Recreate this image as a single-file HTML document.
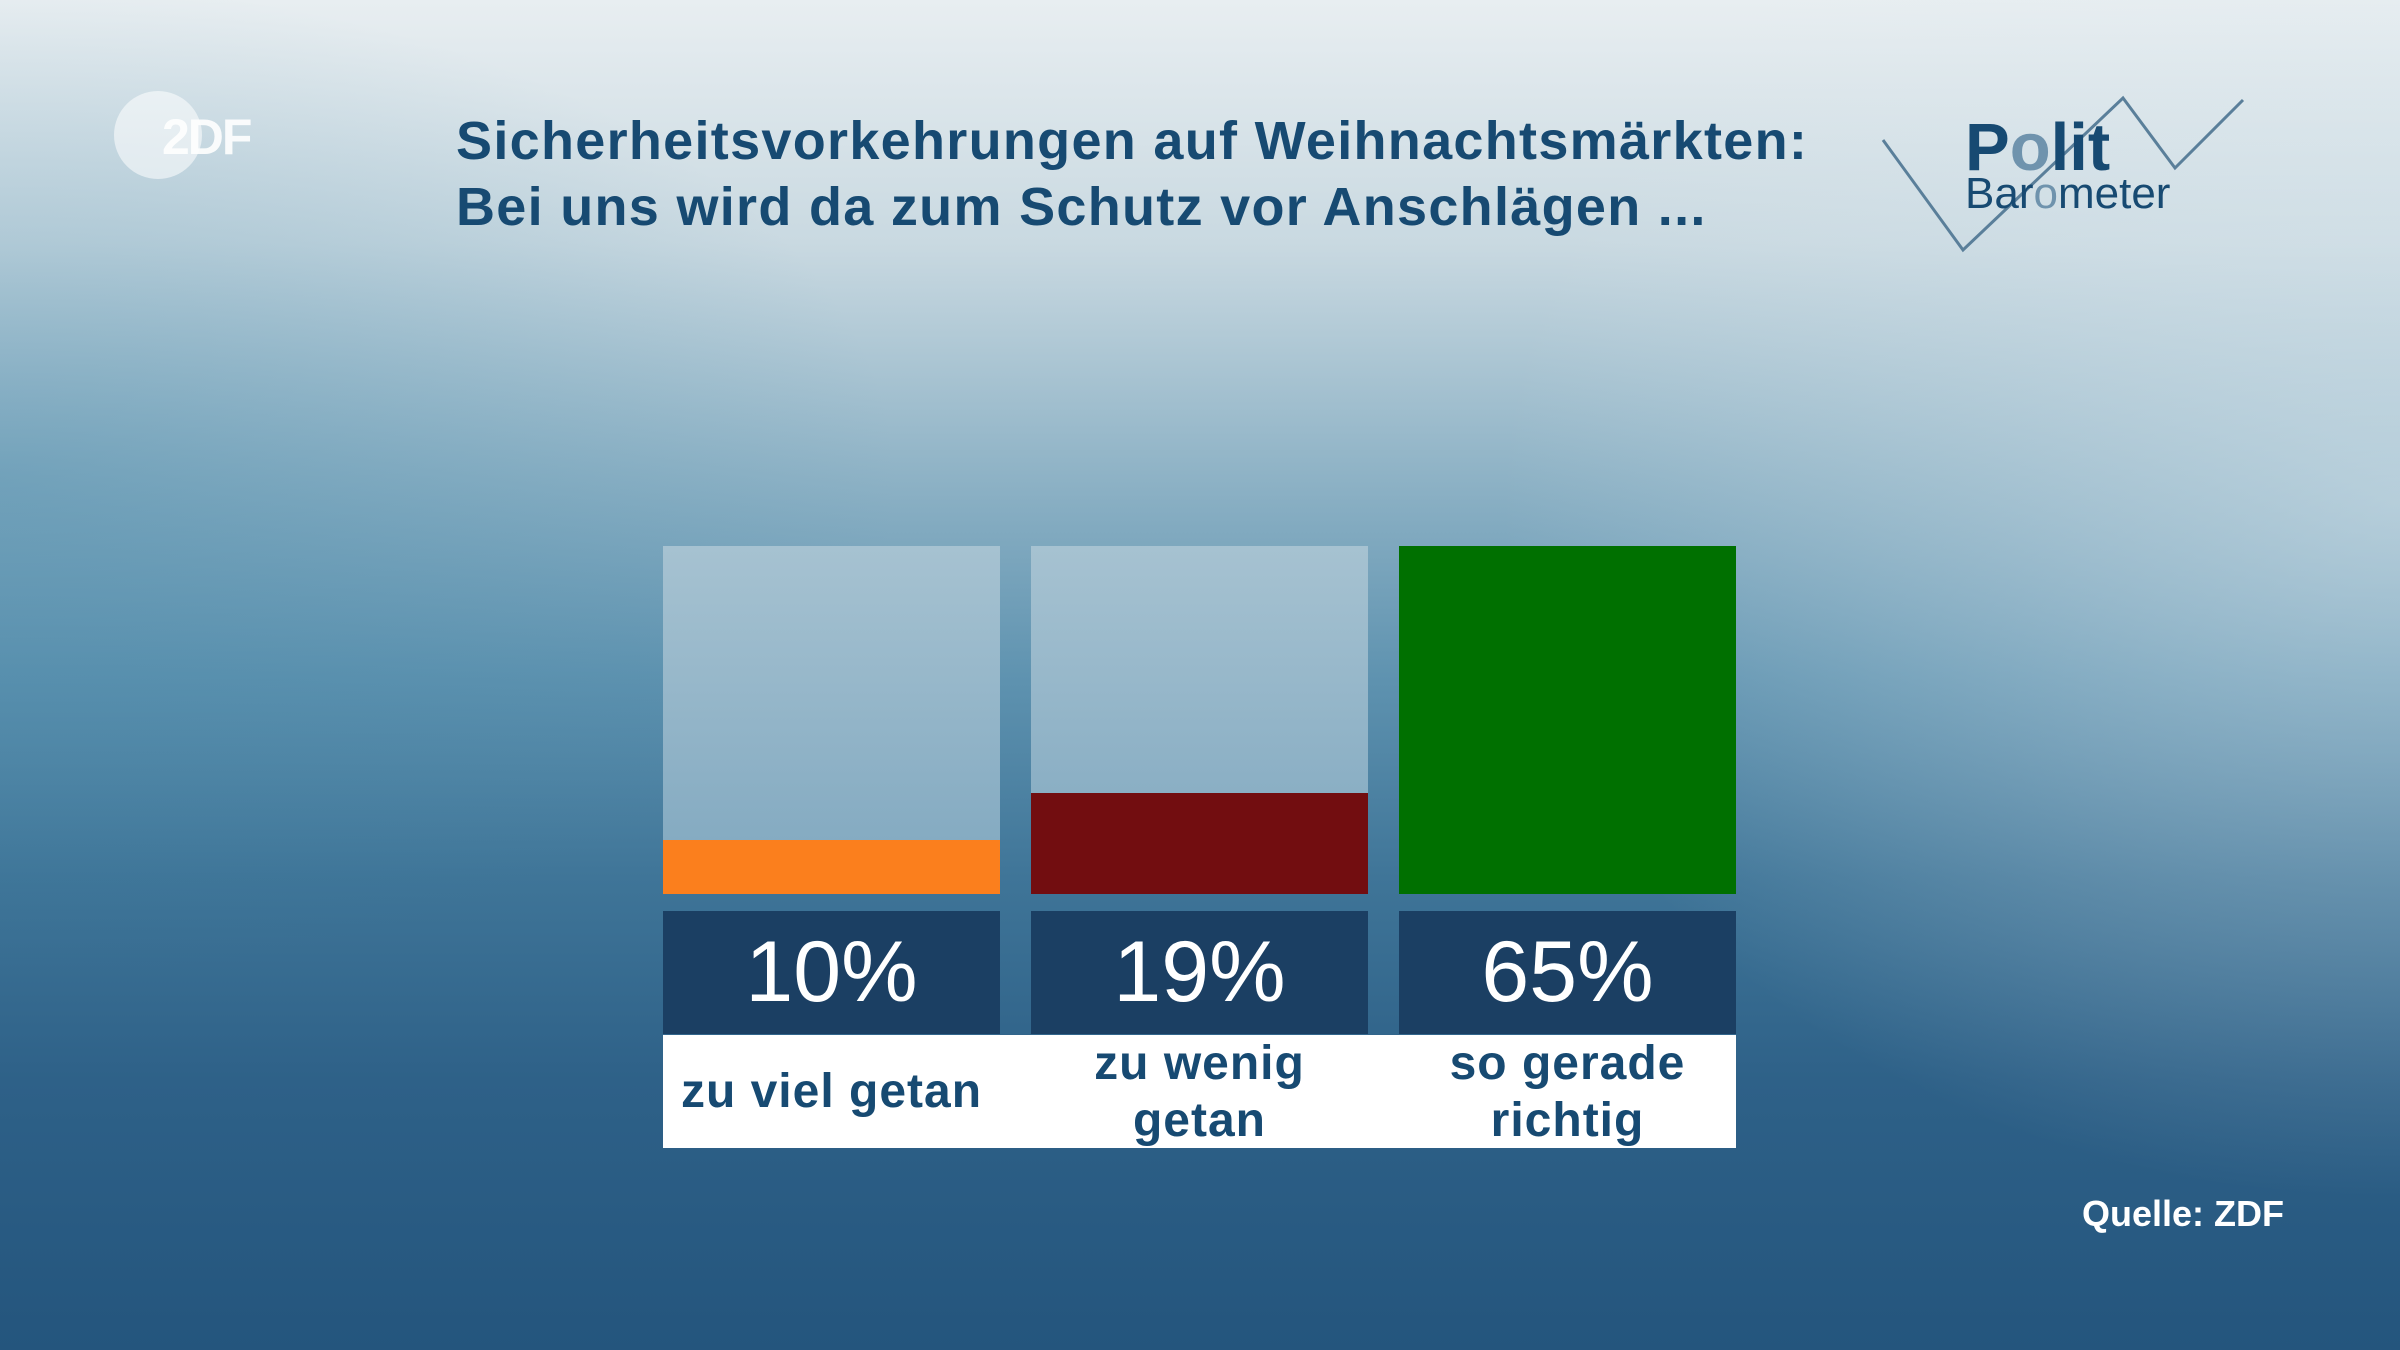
<!DOCTYPE html>
<html><head><meta charset="utf-8"><style>
html,body{margin:0;padding:0}
body{width:2400px;height:1350px;position:relative;overflow:hidden;font-family:"Liberation Sans",sans-serif;
background:linear-gradient(180deg,#e8eef1 0%,#c9d9e1 18%,#8fb3c6 35%,#5f93b0 50%,#3f7598 65%,#2e6188 80%,#24557d 100%);}
.ov{position:absolute;inset:0;background:radial-gradient(ellipse 900px 700px at 2400px 500px,rgba(220,232,238,.55),rgba(220,232,238,0) 100%),radial-gradient(ellipse 900px 500px at 0px 480px,rgba(60,130,165,.35),rgba(60,130,165,0));}
.t{position:absolute;left:456px;color:#174a72;font-weight:bold;font-size:54px;letter-spacing:1.3px;white-space:nowrap}
.bar{position:absolute;top:546px;width:337px;height:348px;background:linear-gradient(180deg,#a6c2d1,#7fa7bf)}
.fill{position:absolute;left:0;right:0;bottom:0}
.pc{position:absolute;top:911px;width:337px;height:123px;background:#1b3f63;color:#fff;font-size:86px;text-align:center;line-height:123px}
.lb{position:absolute;top:1035px;width:337px;height:113px;color:#174a72;font-weight:bold;font-size:48px;letter-spacing:1px;text-align:center;display:flex;align-items:center;justify-content:center;line-height:57px}
</style></head><body>
<div class="ov"></div>
<div style="position:absolute;left:114px;top:91px;width:88px;height:88px;border-radius:50%;background:rgba(255,255,255,.55)"></div>
<div style="position:absolute;left:162px;top:108px;color:#fff;font-size:50px;font-weight:bold;letter-spacing:-2px;opacity:.9">2DF</div>
<div class="t" style="top:110px">Sicherheitsvorkehrungen auf Weihnachtsmärkten:</div>
<div class="t" style="top:176px">Bei uns wird da zum Schutz vor Anschlägen ...</div>
<svg style="position:absolute;left:0;top:0" width="2400" height="300">
<polyline points="1883,140 1963,250 2123,98 2175,168 2243,100" fill="none" stroke="#5a7f9a" stroke-width="3"/>
<text x="1965" y="170" font-family="Liberation Sans" font-weight="bold" font-size="67" fill="#174a72">P<tspan fill="#6f93ad">o</tspan>lit</text>
<text x="1965" y="208" font-family="Liberation Sans" font-size="44" fill="#174a72">Bar<tspan fill="#6f93ad">o</tspan>meter</text>
</svg>
<div class="bar" style="left:663px"><div class="fill" style="height:54px;background:#fb7f1d"></div></div>
<div class="bar" style="left:1031px"><div class="fill" style="height:101px;background:#720d10"></div></div>
<div class="bar" style="left:1399px;background:#007000"></div>
<div class="pc" style="left:663px">10%</div>
<div class="pc" style="left:1031px">19%</div>
<div class="pc" style="left:1399px">65%</div>
<div style="position:absolute;left:663px;top:1035px;width:1073px;height:113px;background:#fff"></div>
<div class="lb" style="left:663px">zu viel getan</div>
<div class="lb" style="left:1031px">zu wenig<br>getan</div>
<div class="lb" style="left:1399px">so gerade<br>richtig</div>
<div style="position:absolute;left:2082px;top:1193px;color:#fff;font-weight:bold;font-size:36px">Quelle: ZDF</div>
</body></html>
